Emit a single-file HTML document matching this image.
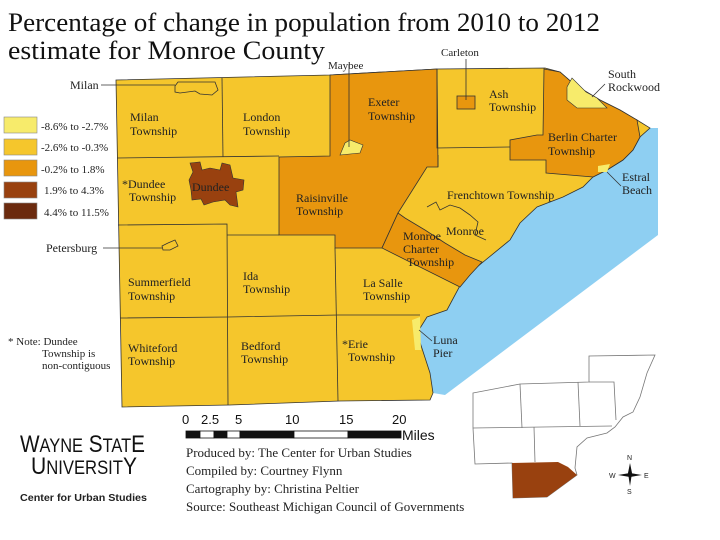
<!DOCTYPE html>
<html><head><meta charset="utf-8"><style>
html,body{margin:0;padding:0;background:#fff;}
svg{display:block;}
.t{font-family:"Liberation Serif",serif;font-size:12px;fill:#222;}
.s{font-family:"Liberation Serif",serif;font-size:11px;fill:#222;}
</style></head><body>
<svg width="720" height="540" viewBox="0 0 720 540" xmlns="http://www.w3.org/2000/svg">
<rect width="720" height="540" fill="#fff"/>
<text x="8" y="31" font-family="Liberation Serif,serif" font-size="26" fill="#111" textLength="592" lengthAdjust="spacingAndGlyphs">Percentage of change in population from 2010 to 2012</text>
<text x="8" y="59" font-family="Liberation Serif,serif" font-size="26" fill="#111" textLength="317" lengthAdjust="spacingAndGlyphs">estimate for Monroe County</text>

<!-- water -->
<polygon points="658,128 658,235 445,395 433,393 430,373 417,333 427,317 447,310 463,280 477,267 510,240 520,223 537,207 563,197 583,187 593,177 607,170 623,160 633,150 640,137 650,128" fill="#8ECFF2"/>
<!-- land -->
<polygon points="116,80 330,75 437,69 545,68 560,72 575,85 600,100 620,110 637,120 650,128 640,137 633,150 623,160 607,170 593,177 583,187 563,197 537,207 520,223 510,240 477,267 463,280 447,310 427,317 417,333 430,373 433,393 430,400 340,401 230,405 122,407" fill="#F5C62C" stroke="#333" stroke-width="0.8"/>
<!-- orange Exeter + Raisinville -->
<polygon points="330,75 437,69 438,167 427,167 398,213 382,248 335,248 335,235 279,235 279,157 330,156" fill="#E8960E" stroke="#333" stroke-width="0.8"/>
<!-- Monroe Charter -->
<polygon points="398,213 382,248 460,287 470,275 482,262 465,255 445,243 425,230 405,218" fill="#E8960E" stroke="#333" stroke-width="0.8"/>
<!-- Berlin -->
<polygon points="544,69 560,72 575,85 600,100 620,110 637,120 640,137 633,150 623,160 607,170 593,177 546,173 546,160 510,160 510,140 537,135 543,135" fill="#E8960E" stroke="#333" stroke-width="0.8"/>
<!-- South Rockwood -->
<polygon points="567,87 567,100 577,108 607,108 597,98 586,92 572,78" fill="#F7EB6B" stroke="#333" stroke-width="0.6"/>
<!-- Estral beach -->
<polygon points="598,166 610,164 607,172 598,172" fill="#F7EB6B"/>
<!-- Luna pier -->
<polygon points="412,320 420,317 421,350 415,350" fill="#F7EB6B"/>
<!-- Maybee -->
<polygon points="345,143 350,140 363,145 360,153 340,155" fill="#F7EB6B" stroke="#333" stroke-width="0.6"/>
<!-- Carleton -->
<rect x="457" y="96" width="18" height="13" fill="#E8960E" stroke="#333" stroke-width="0.8"/>
<!-- Dundee -->
<polygon points="190,163 200,162 202,170 210,168 220,170 222,163 230,165 233,178 244,180 243,190 236,192 238,207 230,205 225,200 213,202 204,205 201,199 192,200 191,190 189,180 193,172" fill="#99410F" stroke="#333" stroke-width="0.6"/>
<!-- grid lines -->
<g stroke="#333" stroke-width="0.8" fill="none">
<line x1="222" y1="78" x2="223" y2="157"/>
<polyline points="117,158 279,156"/>
<polyline points="118,225 227,224 228,405"/>
<polyline points="227,235 279,235"/>
<polyline points="120,318 228,317 338,315 420,315"/>
<polyline points="335,248 338,401"/>
<polyline points="437,69 437,148 510,147"/>
<polyline points="438,155 438,167"/>
<polyline points="427,207 436,202 440,210 450,205 460,208 470,215 478,222 475,235 486,240"/>
<path d="M175,86 L178,82 L215,82 L218,90 L212,95 L200,94 L195,91 L180,93 L175,92 Z"/>
<path d="M162,246 L168,243 L175,240 L178,246 L170,250 L163,250 Z"/>
</g>
<!-- leader lines -->
<g stroke="#333" stroke-width="0.8" fill="none">
<line x1="101" y1="85" x2="175" y2="85"/>
<line x1="103" y1="248" x2="162" y2="248"/>
<line x1="349" y1="64" x2="349" y2="147"/>
<line x1="466" y1="59" x2="466" y2="100"/>
<line x1="605" y1="84" x2="592" y2="97"/>
<line x1="621" y1="186" x2="607" y2="172"/>
<line x1="432" y1="341" x2="419" y2="330"/>
</g>

<!-- labels -->
<text class="t" x="130" y="121">Milan</text><text class="t" x="130" y="135">Township</text>
<text class="t" x="243" y="121">London</text><text class="t" x="243" y="135">Township</text>
<text class="t" x="368" y="106">Exeter</text><text class="t" x="368" y="120">Township</text>
<text class="t" x="489" y="98">Ash</text><text class="t" x="489" y="111">Township</text>
<text class="t" x="548" y="141">Berlin Charter</text><text class="t" x="548" y="155">Township</text>
<text class="t" x="122" y="188">*Dundee</text><text class="t" x="129" y="201">Township</text>
<text class="t" x="192" y="191">Dundee</text>
<text class="t" x="296" y="202">Raisinville</text><text class="t" x="296" y="215">Township</text>
<text class="t" x="447" y="199">Frenchtown Township</text>
<text class="t" x="446" y="235">Monroe</text>
<text class="t" x="403" y="240">Monroe</text><text class="t" x="403" y="253">Charter</text><text class="t" x="407" y="266">Township</text>
<text class="t" x="128" y="286">Summerfield</text><text class="t" x="128" y="300">Township</text>
<text class="t" x="243" y="280">Ida</text><text class="t" x="243" y="293">Township</text>
<text class="t" x="363" y="287">La Salle</text><text class="t" x="363" y="300">Township</text>
<text class="t" x="128" y="352">Whiteford</text><text class="t" x="128" y="365">Township</text>
<text class="t" x="241" y="350">Bedford</text><text class="t" x="241" y="363">Township</text>
<text class="t" x="342" y="348">*Erie</text><text class="t" x="348" y="361">Township</text>
<text class="t" x="433" y="344">Luna</text><text class="t" x="433" y="357">Pier</text>
<text class="t" x="622" y="181">Estral</text><text class="t" x="622" y="194">Beach</text>
<text class="t" x="608" y="78">South</text><text class="t" x="608" y="91">Rockwood</text>
<text class="s" x="441" y="56">Carleton</text>
<text class="s" x="328" y="69">Maybee</text>
<text class="t" x="70" y="89">Milan</text>
<text class="t" x="46" y="252">Petersburg</text>
<text class="s" x="8" y="345">* Note: Dundee</text>
<text class="s" x="42" y="357">Township is</text>
<text class="s" x="42" y="369">non-contiguous</text>

<!-- legend -->
<g stroke="#888" stroke-width="0.6">
<rect x="4" y="117" width="33" height="16" fill="#F7EB6B"/>
<rect x="4" y="139" width="33" height="16" fill="#F5C62C"/>
<rect x="4" y="160" width="33" height="16" fill="#E8960E"/>
<rect x="4" y="182" width="33" height="16" fill="#99410F"/>
<rect x="4" y="203" width="33" height="16" fill="#6B2A0E"/>
</g>
<text class="s" x="41" y="130">-8.6% to -2.7%</text>
<text class="s" x="41" y="151">-2.6% to -0.3%</text>
<text class="s" x="41" y="173">-0.2% to  1.8%</text>
<text class="s" x="44" y="194">1.9% to  4.3%</text>
<text class="s" x="44" y="216">4.4% to  11.5%</text>

<!-- scale bar -->
<g font-family="Liberation Sans,sans-serif" font-size="13" fill="#111">
<text x="182" y="424">0</text><text x="201" y="424">2.5</text><text x="235" y="424">5</text>
<text x="285" y="424">10</text><text x="339" y="424">15</text><text x="392" y="424">20</text>
<text x="402" y="440" font-size="14">Miles</text>
</g>
<g stroke="#111" stroke-width="0.8">
<rect x="186" y="431" width="14" height="7" fill="#111"/>
<rect x="200" y="431" width="14" height="7" fill="#fff"/>
<rect x="214" y="431" width="13" height="7" fill="#111"/>
<rect x="227" y="431" width="13" height="7" fill="#fff"/>
<rect x="240" y="431" width="54" height="7" fill="#111"/>
<rect x="294" y="431" width="54" height="7" fill="#fff"/>
<rect x="348" y="431" width="53" height="7" fill="#111"/>
</g>
<g font-family="Liberation Serif,serif" font-size="13" fill="#222">
<text x="186" y="457">Produced by: The Center for Urban Studies</text>
<text x="186" y="475">Compiled by: Courtney Flynn</text>
<text x="186" y="493">Cartography by: Christina Peltier</text>
<text x="186" y="511">Source: Southeast Michigan Council of Governments</text>
</g>
<!-- logo -->
<text x="20" y="452" font-family="Liberation Sans,sans-serif" font-size="24" fill="#111" textLength="125" lengthAdjust="spacingAndGlyphs">W<tspan font-size="19">AYNE</tspan> S<tspan font-size="19">TAT</tspan>E</text>
<text x="31" y="474" font-family="Liberation Sans,sans-serif" font-size="24" fill="#111" textLength="106" lengthAdjust="spacingAndGlyphs">U<tspan font-size="19">NIVERSIT</tspan>Y</text>
<text x="20" y="501" font-family="Liberation Sans,sans-serif" font-size="10.5" font-weight="bold" fill="#222" textLength="127" lengthAdjust="spacingAndGlyphs">Center for Urban Studies</text>

<!-- inset -->
<polygon points="473,393 520,384 589,382 589,356 655,355 647,373 640,397 633,412 623,417 615,427 607,433 587,438 577,447 575,468 577,475 547,497 513,498 512,463 475,464 473,428" fill="#fff" stroke="#777" stroke-width="0.8"/>
<g stroke="#777" stroke-width="0.8" fill="none">
<polyline points="520,384 522,428"/>
<polyline points="578,382 580,426"/>
<polyline points="589,382 614,382 616,420"/>
<polyline points="473,428 612,426"/>
<polyline points="534,427 535,462"/>
</g>
<polygon points="512,463 558,462 568,467 577,475 547,497 513,498" fill="#99410F"/>
<!-- compass -->
<g fill="#111">
<polygon points="630,463 632,473 630,486 628,473"/>
<polygon points="618,475 630,473 642,475 630,477"/>
</g>
<g font-family="Liberation Sans,sans-serif" font-size="7" fill="#222">
<text x="627" y="460">N</text><text x="627" y="494">S</text><text x="609" y="478">W</text><text x="644" y="478">E</text>
</g>
</svg>
</body></html>
